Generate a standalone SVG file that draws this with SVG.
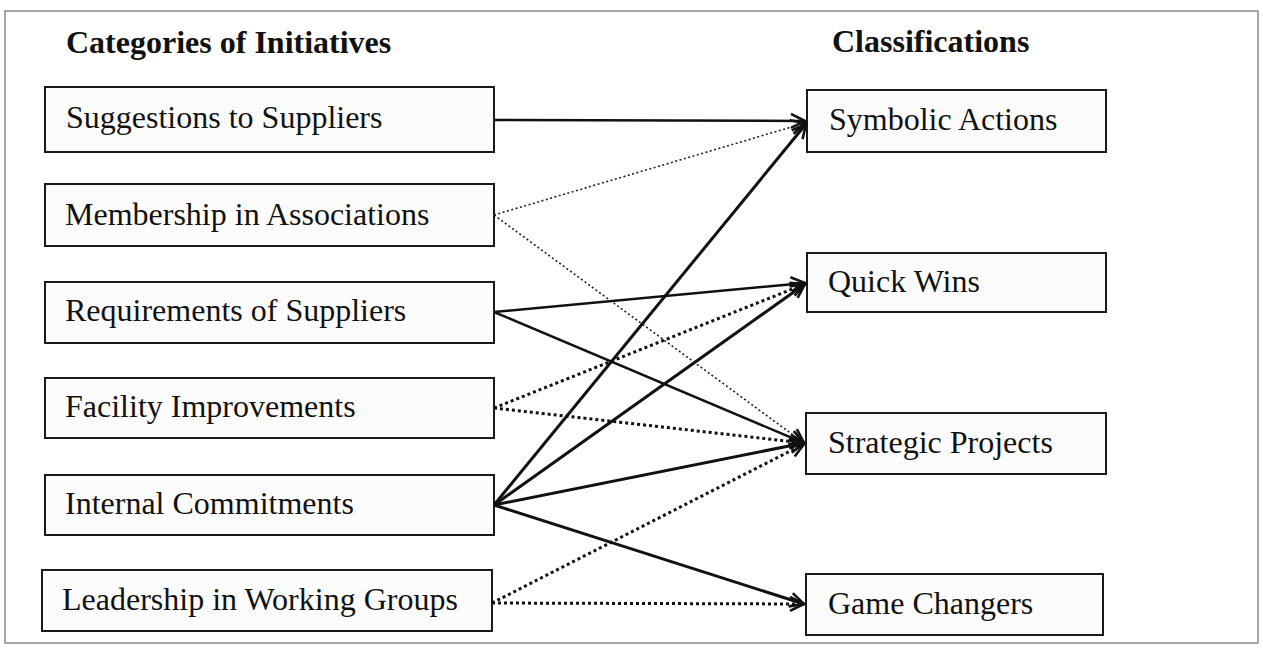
<svg xmlns="http://www.w3.org/2000/svg" width="1263" height="648" viewBox="0 0 1263 648">
<style>
  .box { fill: #fcfcfc; stroke: #1a1a1a; stroke-width: 2; }
  .lbl { font-family: "Liberation Serif", "Times New Roman", serif; font-size: 32px; fill: #111; }
  .hd { font-family: "Liberation Serif", "Times New Roman", serif; font-size: 32px; font-weight: bold; fill: #111; }
  .solid { stroke: #111; stroke-width: 2.5; fill: none; marker-end: url(#arr); }
  .heavy { stroke: #111; stroke-width: 3; fill: none; marker-end: url(#arr); }
  .dotthin { stroke: #222; stroke-width: 1.6; stroke-dasharray: 2 2.5; fill: none; marker-end: url(#arr); }
  .dotthick { stroke: #111; stroke-width: 3; stroke-dasharray: 3 3; fill: none; marker-end: url(#arr); }
</style>
<defs>
  <marker id="arr" markerUnits="userSpaceOnUse" markerWidth="22" markerHeight="22" refX="17" refY="9" orient="auto">
    <path d="M3,2 L17,9 L3,16" fill="none" stroke="#111" stroke-width="2.6" stroke-dasharray="none"/>
  </marker>
</defs>
<rect x="5" y="11" width="1253" height="632" fill="#fff" stroke="#8a8a8a" stroke-width="1.5"/>
<g id="heading-left"><text class="hd" x="66" y="53">Categories of Initiatives</text></g>
<g id="heading-right"><text class="hd" x="832" y="52">Classifications</text></g>

<g id="n-suggestions"><rect class="box" x="45" y="87" width="449" height="65"/><text class="lbl" x="66" y="128">Suggestions to Suppliers</text></g>
<g id="n-membership"><rect class="box" x="45" y="184" width="449" height="62"/><text class="lbl" x="65" y="225">Membership in Associations</text></g>
<g id="n-requirements"><rect class="box" x="45" y="282" width="449" height="61"/><text class="lbl" x="65" y="321">Requirements of Suppliers</text></g>
<g id="n-facility"><rect class="box" x="45" y="378" width="449" height="60"/><text class="lbl" x="65" y="417">Facility Improvements</text></g>
<g id="n-internal"><rect class="box" x="45" y="475" width="449" height="60"/><text class="lbl" x="65" y="514">Internal Commitments</text></g>
<g id="n-leadership"><rect class="box" x="42" y="570" width="450" height="61"/><text class="lbl" x="62" y="610">Leadership in Working Groups</text></g>

<g id="n-symbolic"><rect class="box" x="807" y="90" width="299" height="62"/><text class="lbl" x="829" y="130">Symbolic Actions</text></g>
<g id="n-quickwins"><rect class="box" x="807" y="253" width="299" height="59"/><text class="lbl" x="828" y="292">Quick Wins</text></g>
<g id="n-strategic"><rect class="box" x="806" y="413" width="300" height="61"/><text class="lbl" x="828" y="453">Strategic Projects</text></g>
<g id="n-gamechangers"><rect class="box" x="806" y="574" width="297" height="61"/><text class="lbl" x="828" y="614">Game Changers</text></g>

<g id="connectors">
  <line class="solid" x1="494" y1="120" x2="805" y2="121"/>
  <line class="dotthin" x1="494" y1="215" x2="805" y2="123"/>
  <line class="dotthin" x1="494" y1="215" x2="804" y2="443"/>
  <line class="solid" x1="494" y1="312" x2="805" y2="283"/>
  <line class="solid" x1="494" y1="312" x2="804" y2="443"/>
  <line class="dotthick" x1="494" y1="408" x2="805" y2="284"/>
  <line class="dotthick" x1="494" y1="408" x2="804" y2="443"/>
  <line class="heavy" x1="494" y1="505" x2="806" y2="124"/>
  <line class="heavy" x1="494" y1="505" x2="805" y2="284"/>
  <line class="heavy" x1="494" y1="505" x2="804" y2="443"/>
  <line class="heavy" x1="494" y1="505" x2="804" y2="604"/>
  <line class="dotthick" x1="492" y1="603" x2="804" y2="444"/>
  <line class="dotthick" x1="492" y1="603" x2="804" y2="604"/>
</g>
</svg>
